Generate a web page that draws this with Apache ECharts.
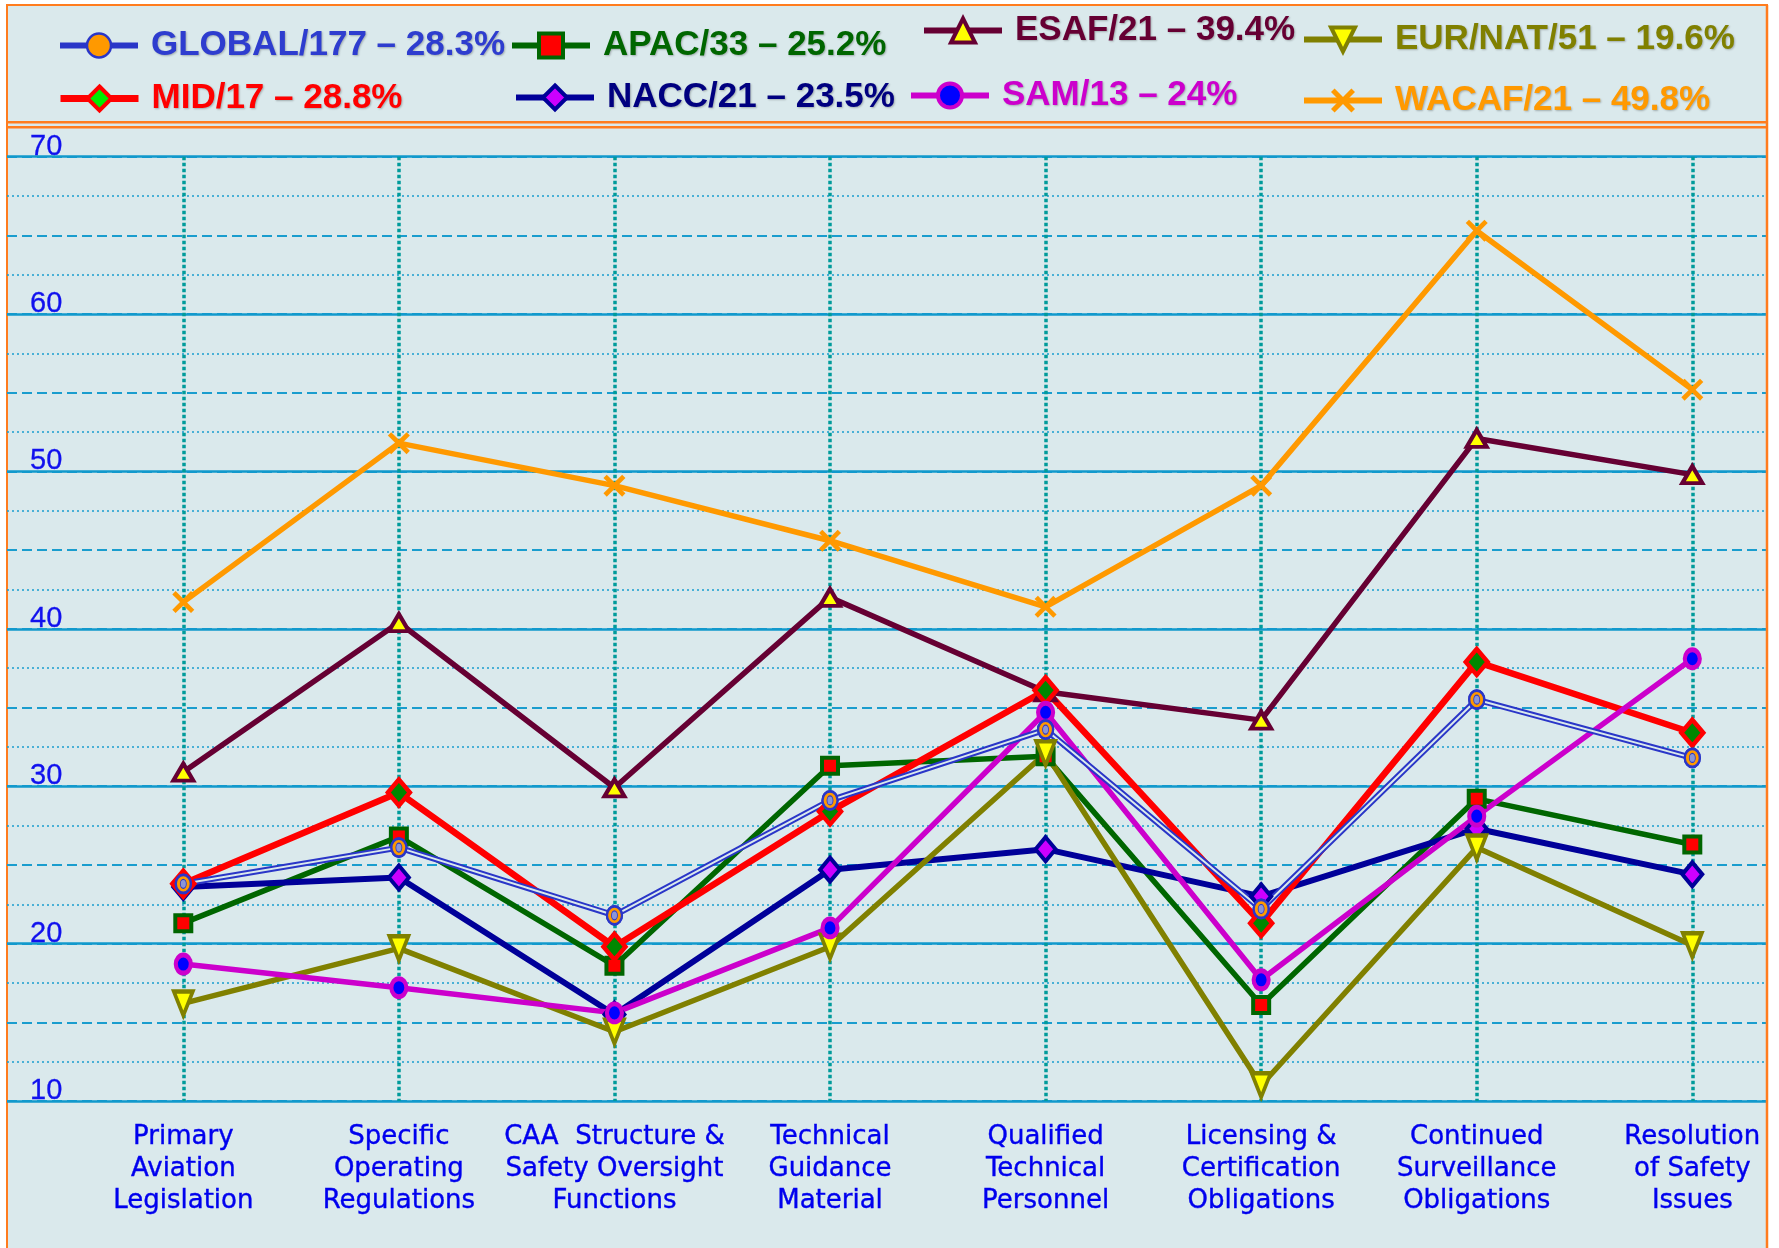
<!DOCTYPE html>
<html><head><meta charset="utf-8">
<script src="https://cdn.jsdelivr.net/npm/echarts@6/dist/echarts.min.js"></script>
<style>html,body{margin:0;padding:0;background:#fff}#c{width:1779px;height:1248px}</style>
</head><body><div id="c"></div>
<script>
// ---- data ----
const categories = [
  'Primary\nAviation\nLegislation',
  'Specific\nOperating\nRegulations',
  'CAA  Structure &\nSafety Oversight\nFunctions',
  'Technical\nGuidance\nMaterial',
  'Qualified\nTechnical\nPersonnel',
  'Licensing &\nCertification\nObligations',
  'Continued\nSurveillance\nObligations',
  'Resolution\nof Safety\nIssues'
];
const yTicks = [10, 20, 30, 40, 50, 60, 70];
const names = ['GLOBAL/177 – 28.3%','APAC/33 – 25.2%','ESAF/21 – 39.4%','EUR/NAT/51 – 19.6%',
               'MID/17 – 28.8%','NACC/21 – 23.5%','SAM/13 – 24%','WACAF/21 – 49.8%'];
const globalVals = [23.8, 26.1, 21.8, 29.1, 33.6, 22.2, 35.5, 31.8];
const apacVals   = [21.3, 26.8, 18.6, 31.3, 31.9, 16.1, 29.2, 26.3];
const esafVals   = [30.9, 40.4, 29.9, 42.0, 36.0, 34.2, 52.1, 49.8];
const eurVals    = [16.2, 19.7, 14.4, 19.8, 32.1, 11.0, 26.1, 19.9];
const midVals    = [23.8, 29.6, 19.8, 28.4, 36.1, 21.3, 37.9, 33.4];
const naccVals   = [23.6, 24.2, 15.5, 24.7, 26.0, 23.0, 27.3, 24.4];
const samVals    = [18.7, 17.2, 15.6, 21.0, 34.7, 17.7, 28.1, 38.1];
const wacafVals  = [41.7, 51.8, 49.1, 45.6, 41.4, 49.1, 65.3, 55.2];

// ---- styling ----
const BG = '#dae9ec';
const ORANGE = '#ff7c1e';
const GRIDC = '#1a9dce';
const xPath = 'path://M0,1.5 L1.5,0 L5,3.5 L8.5,0 L10,1.5 L6.5,5 L10,8.5 L8.5,10 L5,6.5 L1.5,10 L0,8.5 L3.5,5 Z';
const W = 1779, H = 1248;
const plotTop = 156.7, plotBottom = H - 1101;

function lineSeries(name, data, color, width, symbol, size, fill, border, bw, extra) {
  return Object.assign({
    name, type: 'line', data, xAxisIndex: 1, yAxisIndex: 2,
    symbol, symbolSize: size, showAllSymbol: true,
    lineStyle: { color, width },
    itemStyle: { color: fill, borderColor: border, borderWidth: bw, opacity: 1 },
    emphasis: { disabled: true }, animation: false, silent: true
  }, extra || {});
}

const series = [
  lineSeries(names[7], wacafVals, '#ff9900', 5.5, xPath, 22, '#ff9900', '#ff9900', 0),
  lineSeries(names[2], esafVals, '#660033', 5.5, 'triangle', [20, 17], '#ffff00', '#660033', 4),
  lineSeries(names[1], apacVals, '#006600', 5.5, 'rect', 16, '#ff0000', '#006600', 4),
  lineSeries(names[5], naccVals, '#000099', 6, 'diamond', [20, 24], '#cc00ff', '#000099', 4),
  lineSeries(names[4], midVals, '#ff0000', 6.5, 'diamond', [22, 26], '#008800', '#ff0000', 4.5),
  lineSeries(names[3], eurVals, '#808000', 5.5, 'triangle', [19, 24], '#ffff00', '#808000', 4, { symbolRotate: 180 }),
  lineSeries(names[6], samVals, '#cc00cc', 5.5, 'circle', [15, 18], '#0000ff', '#cc00cc', 4.5),
  lineSeries(names[0], globalVals, '#2a36c8', 6, 'circle', [15, 18], '#ff9900', '#2a36c8', 2.5),
  lineSeries('g_inner', globalVals, BG, 2, 'circle', [15, 18], '#ff9900', '#2a36c8', 2.5),
  lineSeries('g_dot', globalVals, BG, 0, 'circle', [6, 9], '#8a95d8', '#2a36c8', 1, { lineStyle: { width: 0, opacity: 0 } })
];

const legendDefs = [
  { n: 0, left: 57, cy: 49, color: '#2e3dcf', lw: 6, it: { color: '#ff9900', borderColor: '#2a36c8', borderWidth: 2.5 } },
  { n: 1, left: 509, cy: 49, color: '#006600', lw: 6, it: { borderWidth: 4 } },
  { n: 2, left: 921, cy: 34, color: '#660033', lw: 6, it: { borderWidth: 4 } },
  { n: 3, left: 1301, cy: 43, color: '#808000', lw: 6, it: { borderWidth: 4 } },
  { n: 4, left: 57, cy: 102, color: '#ff0000', lw: 7, it: { color: '#00ee00', borderWidth: 4 } },
  { n: 5, left: 513, cy: 101, color: '#000080', lw: 6, it: { borderWidth: 4 } },
  { n: 6, left: 908, cy: 99, color: '#cc00cc', lw: 6, it: { borderWidth: 4 } },
  { n: 7, left: 1301, cy: 104, color: '#ff9900', lw: 6, it: {} }
];
const legends = legendDefs.map(d => ({
  data: [names[d.n]], left: d.left, top: d.cy - 21, orient: 'horizontal',
  itemWidth: 78, itemHeight: 30, selectedMode: false, padding: 0,
  lineStyle: { width: d.lw },
  itemStyle: d.it,
  textStyle: {
    color: d.color, fontSize: 35, fontWeight: 'bold',
    fontFamily: '"Liberation Sans", Arial, sans-serif', padding: [0, 0, 0, 8],
    textShadowColor: 'rgba(0,0,0,0.25)', textShadowBlur: 2, textShadowOffsetX: 1, textShadowOffsetY: 1
  }
}));

const chart = echarts.init(document.getElementById('c'), null, { renderer: 'canvas', width: W, height: H });
chart.setOption({
  backgroundColor: '#ffffff',
  animation: false,
  graphic: [
    { type: 'rect', z: -100, shape: { x: 7, y: 5, width: 1760, height: 1400 },
      style: { fill: BG, stroke: ORANGE, lineWidth: 2 } },
    { type: 'line', z: 100, shape: { x1: 7, y1: 122.3, x2: 1767, y2: 122.3 }, style: { stroke: ORANGE, lineWidth: 2.5 } },
    { type: 'line', z: 100, shape: { x1: 7, y1: 127.3, x2: 1767, y2: 127.3 }, style: { stroke: ORANGE, lineWidth: 2.5 } },
    { type: 'line', z: 100, shape: { x1: 1767, y1: 5, x2: 1767, y2: 1248 }, style: { stroke: ORANGE, lineWidth: 2.5 } }
  ],
  legend: legends,
  grid: [
    { left: 7, right: W - 1766, top: plotTop, bottom: plotBottom, containLabel: false },
    { left: 183.3, right: W - 1692.3, top: plotTop, bottom: plotBottom, containLabel: false }
  ],
  xAxis: [
    { type: 'value', gridIndex: 0, show: false, min: 0, max: 1 },
    { type: 'category', gridIndex: 1, data: categories, boundaryGap: false,
      axisLine: { show: false }, axisTick: { show: false },
      axisLabel: { interval: 0, margin: 20, color: '#0000ee', fontSize: 26, lineHeight: 32,
                   fontFamily: '"DejaVu Sans", Verdana, sans-serif',
                   textBorderColor: '#0000ee', textBorderWidth: 0.4 },
      splitLine: { show: true, lineStyle: { color: '#009b9b', width: 3.5, type: [3.5, 2.5] } } }
  ],
  yAxis: [
    { type: 'value', gridIndex: 0, position: 'left', min: yTicks[0], max: yTicks[yTicks.length - 1], interval: 5,
      axisLine: { show: false }, axisTick: { show: false }, axisLabel: { show: false },
      splitLine: { show: true, lineStyle: { color: GRIDC, width: 2, type: [10, 5] } },
      minorTick: { show: false, splitNumber: 2 },
      minorSplitLine: { show: true, lineStyle: { color: GRIDC, width: 1.5, type: [2, 3] } } },
    { type: 'value', gridIndex: 0, position: 'left', min: yTicks[0], max: yTicks[yTicks.length - 1], interval: 10,
      axisLine: { show: false }, axisTick: { show: false },
      axisLabel: { inside: true, margin: 23, color: '#1111ee', fontSize: 29, lineHeight: 20, verticalAlign: 'bottom',
                   fontFamily: '"Liberation Sans", Arial, sans-serif',
                   textBorderColor: '#1111ee', textBorderWidth: 0.3 },
      splitLine: { show: true, lineStyle: { color: '#1199cc', width: 2.5 } } },
    { type: 'value', gridIndex: 1, min: yTicks[0], max: yTicks[yTicks.length - 1], show: false,
      splitLine: { show: false } }
  ],
  series
});
</script></body></html>
